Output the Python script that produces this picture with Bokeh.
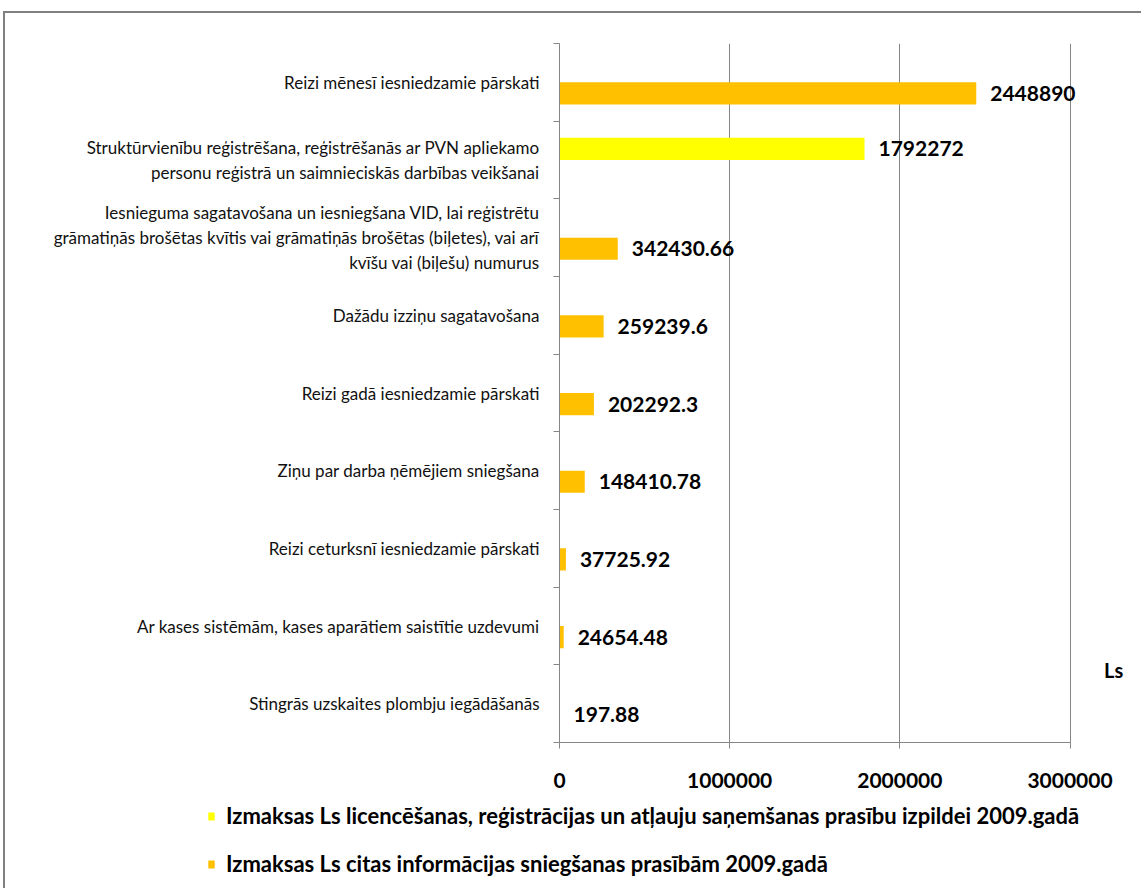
from bokeh.plotting import figure
from bokeh.layouts import column
from bokeh.models import (Range1d, FixedTicker, ColumnDataSource, LabelSet, Label,
                          Legend, LegendItem)
from bokeh.core.properties import value
from bokeh.transform import dodge
from bokeh.embed import file_html
from bokeh.resources import INLINE

# ---- data ----
categories = [
    "Reizi mēnesī iesniedzamie pārskati",
    "Struktūrvienību reģistrēšana, reģistrēšanās ar PVN apliekamo\npersonu reģistrā un saimnieciskās darbības veikšanai",
    "Iesnieguma sagatavošana un iesniegšana VID, lai reģistrētu\ngrāmatiņās brošētas kvītis vai grāmatiņās brošētas (biļetes), vai arī\nkvīšu vai (biļešu) numurus",
    "Dažādu izziņu sagatavošana",
    "Reizi gadā iesniedzamie pārskati",
    "Ziņu par darba ņēmējiem sniegšana",
    "Reizi ceturksnī iesniedzamie pārskati",
    "Ar kases sistēmām, kases aparātiem saistītie uzdevumi",
    "Stingrās uzskaites plombju iegādāšanās",
]
licensing_costs = [None, 1792272, None, None, None, None, None, None, None]
info_costs = [2448890, None, 342430.66, 259239.6, 202292.3, 148410.78, 37725.92, 24654.48, 197.88]
x_ticks = [0, 1000000, 2000000, 3000000]
x_tick_labels = ["0", "1000000", "2000000", "3000000"]
series_names = [
    "Izmaksas Ls licencēšanas, reģistrācijas un atļauju saņemšanas prasību izpildei 2009.gadā",
    "Izmaksas Ls citas informācijas sniegšanas prasībām 2009.gadā",
]
unit_label = "Ls"

YELLOW = "#FFFF00"
ORANGE = "#FFC000"
GRID = "#868686"
FONT = "Lato"


def fmt(v):
    return ("%.2f" % v).rstrip("0").rstrip(".")


def make_source(vals):
    pos, xs, txt = [], [], []
    for i, v in enumerate(vals):
        if v is None:
            continue
        pos.append(i + 1)
        xs.append(v)
        txt.append(fmt(v))
    return ColumnDataSource(dict(pos=pos, value=xs, label=txt))


src_lic = make_source(licensing_costs)
src_info = make_source(info_costs)

n = len(categories)
x_max_axis = x_ticks[-1]
bar_h = 1 / 3.5
off = bar_h / 2

# ---- main chart ----
p = figure(frame_width=582, frame_height=699,
           x_range=Range1d(0, 3420000), y_range=Range1d(n + 0.5, 0.5),
           output_backend="svg", toolbar_location=None,
           min_border_left=554, min_border_top=30, min_border_right=0,
           min_border_bottom=60)
p.frame_align = False
p.outline_line_color = None
p.background_fill_color = "white"
p.border_fill_color = "white"

r_lic = p.hbar(y=dodge("pos", -off, range=p.y_range), right="value", left=0,
               height=bar_h, source=src_lic, fill_color=YELLOW, line_color=None)
r_info = p.hbar(y=dodge("pos", off, range=p.y_range), right="value", left=0,
                height=bar_h, source=src_info, fill_color=ORANGE, line_color=None)

for src, o in ((src_lic, -off), (src_info, off)):
    ls = LabelSet(x="value", y=dodge("pos", o, range=p.y_range), text="label",
                  source=src, x_offset=14, text_baseline="middle", text_align="left",
                  text_font=value(FONT), text_font_size=value("21px"),
                  text_font_style=value("bold"), text_color=value("black"))
    p.add_layout(ls)

xa = p.xaxis[0]
xa.ticker = FixedTicker(ticks=x_ticks)
xa.bounds = (0, x_max_axis)
xa.major_label_overrides = {t: l for t, l in zip(x_ticks, x_tick_labels)}
xa.major_tick_out = 6
xa.major_tick_in = 0
xa.minor_tick_line_color = None
xa.axis_line_color = GRID
xa.major_tick_line_color = GRID
xa.major_label_text_font = FONT
xa.major_label_text_font_size = "21px"
xa.major_label_text_font_style = "bold"
xa.major_label_text_color = "black"
xa.major_label_standoff = 24

ya = p.yaxis[0]
ya.ticker = FixedTicker(ticks=list(range(1, n + 1)),
                        minor_ticks=[i + 0.5 for i in range(0, n + 1)])
ya.major_label_overrides = {i + 1: c for i, c in enumerate(categories)}
ya.major_tick_out = 0
ya.major_tick_in = 0
ya.minor_tick_out = 6
ya.minor_tick_in = 0
ya.minor_tick_line_color = GRID
ya.axis_line_color = GRID
ya.major_label_text_font = FONT
ya.major_label_text_font_size = "17px"
ya.major_label_text_color = "#111111"
ya.major_label_standoff = 14

p.xgrid.grid_line_color = GRID
p.xgrid.ticker = FixedTicker(ticks=x_ticks[1:])
p.ygrid.grid_line_color = None

p.add_layout(Label(x=3200000, y=8.57, text=unit_label, text_font=FONT,
                   text_font_size="20px", text_font_style="bold",
                   text_baseline="middle", text_align="left", text_color="black"))

# ---- legend strip below the chart ----
p2 = figure(width=1136, height=86, output_backend="svg", toolbar_location=None,
            x_axis_location=None, y_axis_location=None, min_border=0,
            x_range=Range1d(0, 1), y_range=Range1d(0, 1))
p2.frame_align = False
p2.outline_line_color = None
p2.grid.grid_line_color = None
p2.background_fill_color = "white"
p2.border_fill_color = "white"
l_lic = p2.hbar(y="pos", right="value", left=0, height=bar_h, source=src_lic,
                fill_color=YELLOW, line_color=None, visible=False)
l_info = p2.hbar(y="pos", right="value", left=0, height=bar_h, source=src_info,
                 fill_color=ORANGE, line_color=None, visible=False)
legend = Legend(items=[LegendItem(label=series_names[0], renderers=[l_lic]),
                       LegendItem(label=series_names[1], renderers=[l_info])],
                location=(202, 11), orientation="vertical",
                padding=0, margin=0, spacing=21,
                glyph_width=8, glyph_height=10, label_standoff=11,
                label_text_font=FONT, label_text_font_size="22px",
                label_text_font_style="bold", label_text_color="black",
                inactive_fill_alpha=0,
                border_line_color=None, background_fill_alpha=0)
p2.add_layout(legend, "center")

page = column(p, p2, spacing=0,
              styles={"border-top": "2px solid #808080", "border-left": "2px solid #808080",
                      "margin-left": "3px", "margin-top": "11px"})

open("out.html", "w").write(file_html(page, INLINE))
